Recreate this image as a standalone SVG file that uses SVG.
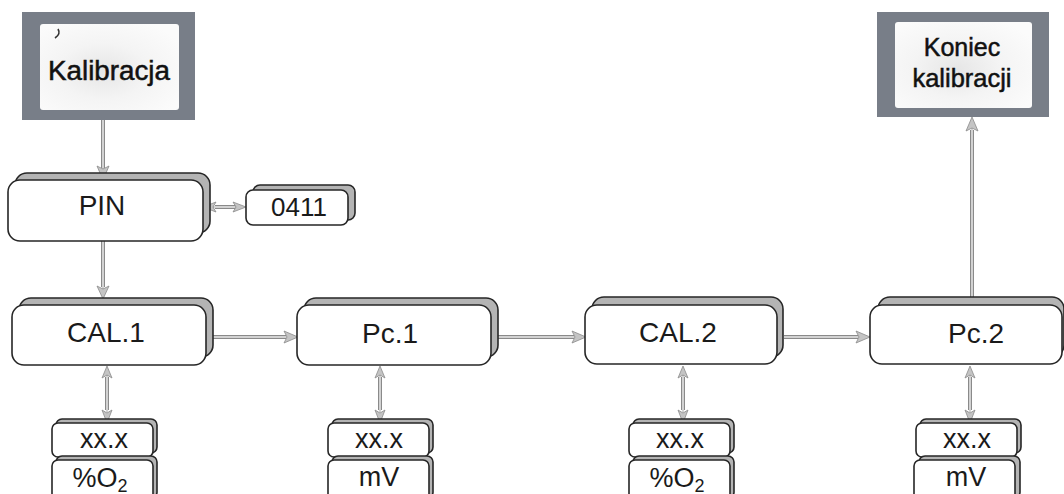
<svg xmlns="http://www.w3.org/2000/svg" width="1064" height="494" viewBox="0 0 1064 494">
  <defs>
    <radialGradient id="screen" cx="0.45" cy="0.55" r="0.65">
      <stop offset="0" stop-color="#e6e6e6"/>
      <stop offset="0.5" stop-color="#f4f4f4"/>
      <stop offset="1" stop-color="#fbfbfb"/>
    </radialGradient>
  </defs>
  <style>
    .back { fill: #b4b4b4; stroke: #262626; stroke-width: 1.6; }
    .front { fill: #ffffff; stroke: #262626; stroke-width: 1.6; }
    .frame { fill: #787e88; }
    .lbl { font-family: "Liberation Sans", Arial, sans-serif; fill: #1a1a1a; text-anchor: middle; }
    .big { font-size: 28px; }
    .code { font-size: 26px; }
    .val { font-size: 27px; }
    .term { font-size: 27px; fill: #111; stroke: #111; stroke-width: 0.5; }
    .term2 { font-size: 25px; fill: #111; stroke: #111; stroke-width: 0.5; }
    .wire { stroke: #8a8a8a; stroke-width: 4; fill: none; }
    .core { stroke: #d2d2d2; stroke-width: 2; fill: none; }
    .head { fill: #c4c4c4; stroke: #8a8a8a; stroke-width: 0.8; }
  </style>

  <!-- connectors -->
  <g id="connectors">
    <g class="wire">
      <line x1="103" y1="120" x2="103" y2="168"/>
      <line x1="103" y1="241" x2="103" y2="287"/>
      <line x1="215" y1="207" x2="236" y2="207"/>
      <line x1="213" y1="337" x2="286" y2="337"/>
      <line x1="497" y1="337" x2="574" y2="337"/>
      <line x1="784" y1="337" x2="858" y2="337"/>
      <line x1="972" y1="298" x2="972" y2="130"/>
      <line x1="107" y1="377" x2="107" y2="410"/>
      <line x1="380" y1="377" x2="380" y2="410"/>
      <line x1="683" y1="377" x2="683" y2="410"/>
      <line x1="970" y1="377" x2="970" y2="410"/>
    </g>
    <g class="core">
      <line x1="103" y1="120" x2="103" y2="170"/>
      <line x1="103" y1="241" x2="103" y2="289"/>
      <line x1="213" y1="207" x2="238" y2="207"/>
      <line x1="213" y1="337" x2="288" y2="337"/>
      <line x1="497" y1="337" x2="576" y2="337"/>
      <line x1="784" y1="337" x2="860" y2="337"/>
      <line x1="972" y1="298" x2="972" y2="128"/>
      <line x1="107" y1="375" x2="107" y2="412"/>
      <line x1="380" y1="375" x2="380" y2="412"/>
      <line x1="683" y1="375" x2="683" y2="412"/>
      <line x1="970" y1="375" x2="970" y2="412"/>
    </g>
    <g class="head">
      <!-- single heads -->
      <path d="M97,166 L103,180 L109,166 L103,169 Z"/>
      <path d="M97,286 L103,299 L109,286 L103,289 Z"/>
      <path d="M284,331 L298,337 L284,343 L287,337 Z"/>
      <path d="M572,331 L586,337 L572,343 L575,337 Z"/>
      <path d="M856,331 L870,337 L856,343 L859,337 Z"/>
      <path d="M966,131 L972,117 L978,131 L972,128 Z"/>
      <!-- PIN to 0411, both ends -->
      <path d="M216,202 L203,207 L216,212 L213,207 Z"/>
      <path d="M233,202 L246,207 L233,212 L236,207 Z"/>
      <!-- box to value, both ends -->
      <path d="M102,378 L107,366 L112,378 L107,375 Z"/>
      <path d="M102,410 L107,423 L112,410 L107,413 Z"/>
      <path d="M375,378 L380,366 L385,378 L380,375 Z"/>
      <path d="M375,410 L380,423 L385,410 L380,413 Z"/>
      <path d="M678,378 L683,366 L688,378 L683,375 Z"/>
      <path d="M678,410 L683,423 L688,410 L683,413 Z"/>
      <path d="M965,378 L970,366 L975,378 L970,375 Z"/>
      <path d="M965,410 L970,423 L975,410 L970,413 Z"/>
    </g>
  </g>

  <!-- start display -->
  <g id="kalibracja">
    <rect class="frame" x="22" y="12" width="173" height="108"/>
    <rect x="40" y="24" width="139" height="86" rx="3" fill="url(#screen)"/>
    <path d="M58,29 Q61,34 55,38" stroke="#333" stroke-width="1.6" fill="none"/>
    <text class="lbl term" x="109" y="80" textLength="122" lengthAdjust="spacingAndGlyphs">Kalibracja</text>
  </g>

  <!-- end display -->
  <g id="koniec">
    <rect class="frame" x="877" y="12" width="172" height="105"/>
    <rect x="895" y="22" width="137" height="86" rx="3" fill="url(#screen)"/>
    <text class="lbl term2" x="962" y="56">Koniec</text>
    <text class="lbl term2" x="962" y="87" textLength="99" lengthAdjust="spacingAndGlyphs">kalibracji</text>
  </g>

  <g id="pin">
    <rect class="back" x="15" y="173" width="195" height="60" rx="12"/>
    <rect class="front" x="8" y="180" width="195" height="61" rx="12"/>
    <text class="lbl big" x="102" y="215">PIN</text>
  </g>

  <g id="pin-code">
    <rect class="back" x="253" y="185" width="102" height="35" rx="7"/>
    <rect class="front" x="246" y="190" width="102" height="35" rx="7"/>
    <text class="lbl code" x="299" y="216">0411</text>
  </g>

  <g id="cal1">
    <rect class="back" x="19" y="298" width="194" height="59" rx="12"/>
    <rect class="front" x="12" y="305" width="194" height="60" rx="12"/>
    <text class="lbl big" x="106" y="342">CAL.1</text>
  </g>

  <g id="pc1">
    <rect class="back" x="304" y="298" width="194" height="59" rx="12"/>
    <rect class="front" x="297" y="305" width="194" height="60" rx="12"/>
    <text class="lbl big" x="390" y="343">Pc.1</text>
  </g>

  <g id="cal2">
    <rect class="back" x="592" y="297" width="191" height="60" rx="12"/>
    <rect class="front" x="585" y="305" width="192" height="59" rx="12"/>
    <text class="lbl big" x="678" y="342">CAL.2</text>
  </g>

  <g id="pc2">
    <rect class="back" x="878" y="297" width="186" height="60" rx="12"/>
    <rect class="front" x="870" y="305" width="192" height="59" rx="12"/>
    <text class="lbl big" x="976" y="343">Pc.2</text>
  </g>

  <!-- value / unit readouts -->
  <g id="val1">
    <rect class="back" x="56" y="419" width="101" height="34" rx="6"/>
    <rect class="front" x="52" y="423" width="101" height="34" rx="6"/>
    <text class="lbl val" x="104" y="448">xx.x</text>
    <rect class="back" x="56" y="456" width="101" height="42" rx="6"/>
    <rect class="front" x="52" y="460" width="101" height="42" rx="6"/>
    <text class="lbl val" x="100" y="487">%O<tspan font-size="18" dy="5">2</tspan></text>
  </g>

  <g id="val2">
    <rect class="back" x="332" y="419" width="101" height="34" rx="6"/>
    <rect class="front" x="328" y="423" width="101" height="34" rx="6"/>
    <text class="lbl val" x="379" y="448">xx.x</text>
    <rect class="back" x="332" y="456" width="101" height="42" rx="6"/>
    <rect class="front" x="328" y="460" width="101" height="42" rx="6"/>
    <text class="lbl val" x="379" y="486">mV</text>
  </g>

  <g id="val3">
    <rect class="back" x="633" y="419" width="101" height="34" rx="6"/>
    <rect class="front" x="629" y="423" width="101" height="34" rx="6"/>
    <text class="lbl val" x="680" y="448">xx.x</text>
    <rect class="back" x="633" y="456" width="101" height="42" rx="6"/>
    <rect class="front" x="629" y="460" width="101" height="42" rx="6"/>
    <text class="lbl val" x="677" y="487">%O<tspan font-size="18" dy="5">2</tspan></text>
  </g>

  <g id="val4">
    <rect class="back" x="920" y="419" width="101" height="34" rx="6"/>
    <rect class="front" x="916" y="423" width="101" height="34" rx="6"/>
    <text class="lbl val" x="967" y="448">xx.x</text>
    <rect class="back" x="919" y="456" width="101" height="42" rx="6"/>
    <rect class="front" x="914" y="460" width="101" height="42" rx="6"/>
    <text class="lbl val" x="966" y="486">mV</text>
  </g>
</svg>
